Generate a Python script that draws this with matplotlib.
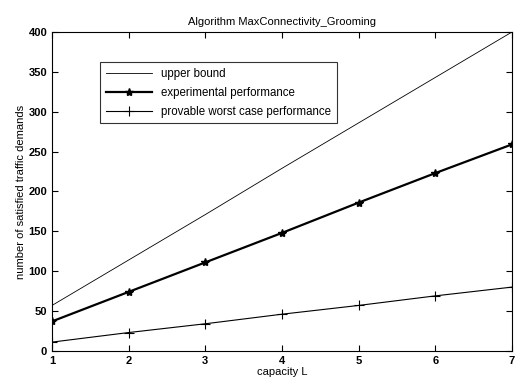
import matplotlib.pyplot as plt

plt.rcParams['font.family'] = ['Liberation Sans', 'DejaVu Sans']

capacity = [1, 2, 3, 4, 5, 6, 7]
upper_bound = [57, 114, 171, 229, 286, 343, 400]
experimental = [37, 74, 111, 148, 186, 223, 259]
worst_case = [11, 23, 34, 46, 57, 69, 80]

fig = plt.figure(figsize=(5.15, 3.86), dpi=100)
ax = fig.add_axes([0.101, 0.091, 0.893, 0.826])

ax.plot(capacity, upper_bound, color='black', lw=0.6, label='upper bound')
ax.plot(capacity, experimental, color='black', lw=1.6, marker='*', ms=6,
        label='experimental performance')
ax.plot(capacity, worst_case, color='black', lw=0.8, marker='+', ms=7,
        mew=0.8, label='provable worst case performance')

ax.set_xlim(1, 7)
ax.set_ylim(0, 400)
ax.set_xticks(range(1, 8))
ax.set_yticks(range(0, 401, 50))
ax.tick_params(direction='in', top=True, right=True, labelsize=8, length=4)
for lab in ax.get_xticklabels() + ax.get_yticklabels():
    lab.set_fontweight('bold')

ax.set_title('Algorithm MaxConnectivity_Grooming', fontsize=8, pad=5)
ax.set_xlabel('capacity L', fontsize=8, labelpad=1)
ax.set_ylabel('number of satisfied traffic demands', fontsize=8, labelpad=2)

# legend box sits a bit in from the top-left corner
leg = ax.legend(loc='upper left', bbox_to_anchor=(0.104, 0.906), fontsize=8.3,
                frameon=True, fancybox=False, edgecolor='black',
                borderaxespad=0, handlelength=4, labelspacing=0.6,
                borderpad=0.5)
leg.get_frame().set_linewidth(0.8)

fig.savefig('out.png', dpi=100)
